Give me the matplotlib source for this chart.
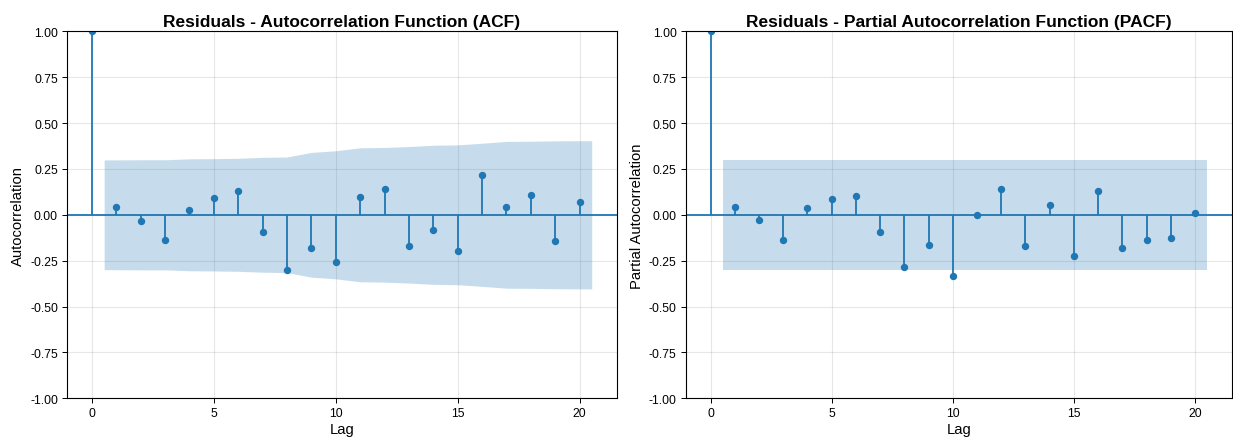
import matplotlib
matplotlib.use("Agg")
import matplotlib.pyplot as plt
import numpy as np

plt.rcParams["font.family"] = ["Liberation Sans", "DejaVu Sans"]

# ── Data ──────────────────────────────────────────────────────────────────────
lags = list(range(21))

acf_values = [1.0, 0.044, -0.033, -0.136, 0.024, 0.094, 0.129, -0.092, -0.301,
              -0.182, -0.257, 0.099, 0.140, -0.171, -0.081, -0.197, 0.215,
              0.044, 0.110, -0.142, 0.070]
# half-width of the 95% band for lags 1..20
acf_conf = [0.299, 0.300, 0.300, 0.305, 0.306, 0.308, 0.313, 0.315, 0.340,
            0.349, 0.365, 0.367, 0.372, 0.379, 0.381, 0.390, 0.400, 0.401,
            0.403, 0.404]

pacf_values = [1.0, 0.044, -0.031, -0.136, 0.039, 0.085, 0.105, -0.092, -0.283,
               -0.162, -0.336, 0.001, 0.140, -0.171, 0.053, -0.226, 0.129,
               -0.182, -0.136, -0.127, 0.009]
pacf_conf = [0.299] * 20

panels = [
    ("Residuals - Autocorrelation Function (ACF)", "Autocorrelation", acf_values, acf_conf),
    ("Residuals - Partial Autocorrelation Function (PACF)", "Partial Autocorrelation", pacf_values, pacf_conf),
]

W, H = 1233, 439
fig = plt.figure(figsize=(W / 100, H / 100), dpi=100)
boxes = [
    (67 / W, 1 - 399.3 / H, (616.7 - 67) / W, (399.3 - 32.3) / H),
    (685.7 / W, 1 - 399.3 / H, (1232 - 685.7) / W, (399.3 - 32.3) / H),
]

for box, (title, ylabel, vals, conf) in zip(boxes, panels):
    ax = fig.add_axes(box)
    x = np.array(lags, dtype=float)
    y = np.array(vals)

    # confidence band, statsmodels style (ends stretched by half a lag)
    band_x = x[1:].copy()
    band_x[0] -= 0.5
    band_x[-1] += 0.5
    c = np.array(conf)
    ax.fill_between(band_x, -c, c, color="C0", alpha=0.25, linewidth=0)

    ax.vlines(x, 0, y, color="C0", linewidth=1.3)
    ax.axhline(0, color="C0", linewidth=1.3)
    ax.plot(x, y, "o", color="C0", markersize=4.3)

    ax.margins(0.05)
    ax.set_ylim(-1, 1)
    ax.set_xticks([0, 5, 10, 15, 20])
    ax.set_yticks(np.arange(-1, 1.01, 0.25))
    ax.set_yticklabels([f"{v:.2f}" for v in np.arange(-1, 1.01, 0.25)])
    ax.tick_params(labelsize=8.8, length=3.5, width=0.7, pad=3)
    ax.grid(alpha=0.3)
    ax.set_axisbelow(True)
    for s in ax.spines.values():
        s.set_linewidth(0.8)
    ax.set_title(title, fontsize=12.5, fontweight="bold", pad=4)
    ax.set_xlabel("Lag", fontsize=10.6, labelpad=2)
    ax.set_ylabel(ylabel, fontsize=10.6, labelpad=3.5)

fig.savefig("out.png", dpi=100)
